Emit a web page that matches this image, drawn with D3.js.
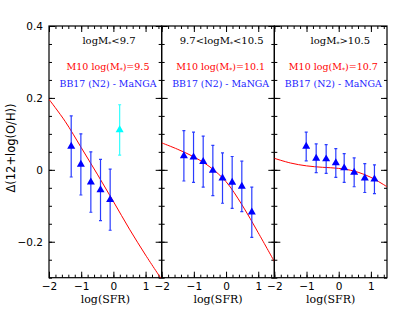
<!DOCTYPE html>
<html>
<head>
<meta charset="utf-8">
<script src="https://cdn.jsdelivr.net/npm/d3@7"></script>
<style>
    body { margin: 0; background: #fff; }
    .fmr-axis text { font-family: 'DejaVu Sans', sans-serif; font-size: 10.5px; fill: #000; }
    .fmr-axis line { stroke: #000; }
    .serif { font-family: 'DejaVu Serif', serif; font-size: 10px; }
</style>
</head>
<body>
<svg id="chart" width="415" height="321"></svg>
<script>
// DATA
const massBins = ['logM*<9.7', '9.7<logM*<10.5', 'logM*>10.5'];
const m10Mass = ['9.5', '10.1', '10.7'];
const sampleName = 'BB17 (N2) - MaNGA';
const xTicks = [-2, -1, 0, 1];
const yTicks = [0.4, 0.2, 0, -0.2];

// BB17 (N2) - MaNGA points, one array per mass bin
const sfrBB17 = [
    [-1.31, -1.01, -0.70, -0.40, -0.10],
    [-1.31, -1.01, -0.71, -0.41, -0.11, 0.19, 0.49, 0.80],
    [-1.01, -0.70, -0.39, -0.09, 0.17, 0.48, 0.81, 1.11]
];
const dohBB17 = [
    [0.065, 0.015, -0.034, -0.056, -0.083],
    [0.039, 0.035, 0.023, -0.002, -0.023, -0.035, -0.046, -0.118],
    [0.065, 0.032, 0.030, 0.019, 0.005, -0.007, -0.023, -0.026]
];
const errBB17 = [
    [0.085, 0.085, 0.084, 0.085, 0.085],
    [0.070, 0.070, 0.071, 0.070, 0.070, 0.072, 0.070, 0.070],
    [0.040, 0.040, 0.040, 0.040, 0.040, 0.040, 0.040, 0.040]
];

// single cyan point in the low mass bin
const sfrCyan = [0.195];
const dohCyan = [0.111];
const errCyan = [0.070];

// M10 curves
const sfrM10 = [-2, -1.5, -1, -0.5, 0, 0.5, 1, 1.5];
const dohM10 = [
    [0.196, 0.135, 0.062, -0.012, -0.088, -0.165, -0.237, -0.305],
    [0.075, 0.057, 0.036, 0.008, -0.033, -0.098, -0.175, -0.255],
    [0.032, 0.019, 0.011, 0.007, 0.004, -0.004, -0.021, -0.047]
];

class FmrPanel {
    constructor(svg, index) {
        this.svg = svg;
        this.index = index;
        this.initVis();
    }

    initVis() {
        let vis = this;

        vis.margin = { top: 26, left: 49 };
        vis.width = 338 / 3;
        vis.height = 251.7;
        vis.x0 = vis.margin.left + vis.index * vis.width;

        vis.g = vis.svg.append('g')
            .attr('transform', `translate(${vis.x0},${vis.margin.top})`);

        // SCALES
        vis.x = d3.scaleLinear().domain([-2, 1.5]).range([0, vis.width]);
        vis.y = d3.scaleLinear().domain([-0.3, 0.4]).range([vis.height, 0]);

        vis.g.append('clipPath')
            .attr('id', 'clip' + vis.index)
            .append('rect')
            .attr('width', vis.width)
            .attr('height', vis.height);

        vis.drawAxes();
        vis.drawData();
        vis.drawLabels();
    }

    drawAxes() {
        let vis = this;
        const minorX = d3.range(-2, 1.51, 0.2);
        const minorY = d3.range(-0.3, 0.401, 0.05);

        const axes = [
            [d3.axisBottom, vis.x, `translate(0,${vis.height})`, true],
            [d3.axisTop, vis.x, 'translate(0,0)', false],
            [d3.axisLeft, vis.y, 'translate(0,0)', false],
            [d3.axisRight, vis.y, `translate(${vis.width},0)`, false]
        ];

        axes.forEach(([axisFn, scale, tr, labels]) => {
            const isX = scale === vis.x;
            const minor = isX ? minorX : minorY;
            const major = isX ? xTicks : yTicks;

            vis.g.append('g')
                .attr('class', 'fmr-axis')
                .attr('transform', tr)
                .call(axisFn(scale).tickValues(minor).tickSize(-3).tickFormat(''))
                .call(g => g.select('.domain').remove());

            vis.g.append('g')
                .attr('class', 'fmr-axis')
                .attr('transform', tr)
                .call(axisFn(scale).tickValues(major).tickSize(-6).tickPadding(4.5)
                    .tickFormat(labels ? d3.format('d') : ''))
                .call(g => g.select('.domain').remove());
        });

        // Y LABELS (first panel only)
        if (vis.index === 0) {
            const fmt = d => (d === 0 ? '0' : d3.format('.1f')(d));
            vis.g.append('g')
                .attr('class', 'fmr-axis')
                .selectAll('text')
                .data(yTicks)
                .enter()
                .append('text')
                .attr('x', -6)
                .attr('y', d => vis.y(d))
                .attr('dy', '0.36em')
                .attr('text-anchor', 'end')
                .text(fmt);
        }

        // FRAME
        vis.g.append('rect')
            .attr('width', vis.width)
            .attr('height', vis.height)
            .attr('fill', 'none')
            .attr('stroke', '#000')
            .attr('stroke-width', 1.2);

        // X TITLE
        vis.g.append('text')
            .attr('class', 'serif')
            .attr('x', vis.width / 2)
            .attr('y', vis.height + 25.5)
            .attr('text-anchor', 'middle')
            .style('font-size', '11px')
            .text('log(SFR)');
    }

    drawData() {
        let vis = this;
        const i = vis.index;

        const plot = vis.g.append('g').attr('clip-path', `url(#clip${i})`);

        // M10 CURVE
        const line = d3.line()
            .x(d => vis.x(d[0]))
            .y(d => vis.y(d[1]))
            .curve(d3.curveCatmullRom);

        plot.append('path')
            .datum(sfrM10.map((s, j) => [s, dohM10[i][j]]))
            .attr('d', line)
            .attr('fill', 'none')
            .attr('stroke', '#ff0000')
            .attr('stroke-width', 1);

        const sets = [{ s: sfrBB17[i], d: dohBB17[i], e: errBB17[i], bar: '#2a3cff', fill: '#0000ff' }];
        if (i === 0) sets.push({ s: sfrCyan, d: dohCyan, e: errCyan, bar: '#33ffff', fill: '#00ffff' });

        sets.forEach(set => {
            const pts = set.s.map((s, j) => ({ s: s, d: set.d[j], e: set.e[j] }));

            // ERROR BARS
            const bars = plot.append('g').selectAll('g').data(pts).enter().append('g')
                .attr('stroke', set.bar)
                .attr('stroke-width', 1.2);
            bars.append('line')
                .attr('x1', d => vis.x(d.s)).attr('x2', d => vis.x(d.s))
                .attr('y1', d => vis.y(d.d + d.e)).attr('y2', d => vis.y(d.d - d.e));
            [1, -1].forEach(k => {
                bars.append('line')
                    .attr('x1', d => vis.x(d.s) - 1.5).attr('x2', d => vis.x(d.s) + 1.5)
                    .attr('y1', d => vis.y(d.d + k * d.e)).attr('y2', d => vis.y(d.d + k * d.e));
            });

            // TRIANGLES
            plot.append('g').selectAll('path').data(pts).enter().append('path')
                .attr('d', d3.symbol().type(d3.symbolTriangle).size(28))
                .attr('transform', d => `translate(${vis.x(d.s)},${vis.y(d.d)})`)
                .attr('fill', set.fill);
        });
    }

    drawLabels() {
        let vis = this;
        const i = vis.index;
        const cx = 59;

        const massText = (sel, str) => {
            const parts = str.split('*');
            parts.forEach((p, k) => {
                if (k > 0) {
                    sel.append('tspan').attr('dy', 2).style('font-size', '6px').text('*');
                    sel.append('tspan').attr('dy', -2).text(p);
                } else {
                    sel.append('tspan').text(p);
                }
            });
        };

        const t1 = vis.g.append('text')
            .attr('class', 'serif')
            .attr('x', i === 2 ? 66 : cx + 1)
            .attr('y', 18)
            .attr('text-anchor', 'middle')
            .attr('fill', '#000');
        massText(t1, massBins[i]);

        const t2 = vis.g.append('text')
            .attr('class', 'serif')
            .attr('x', cx)
            .attr('y', 43.5)
            .attr('text-anchor', 'middle')
            .style('font-size', '9.5px')
            .attr('fill', '#ff0000');
        massText(t2, 'M10 log(M*)=' + m10Mass[i]);

        vis.g.append('text')
            .attr('class', 'serif')
            .attr('x', cx)
            .attr('y', 61)
            .attr('text-anchor', 'middle')
            .style('font-size', '9.4px')
            .attr('fill', '#1a1aff')
            .text(sampleName);
    }
}

const svg = d3.select('#chart');
[0, 1, 2].forEach(i => new FmrPanel(svg, i));

// Y TITLE
svg.append('text')
    .attr('transform', 'translate(15,148) rotate(-90)')
    .attr('text-anchor', 'middle')
    .style('font-family', "'DejaVu Sans', sans-serif")
    .style('font-size', '11.5px')
    .text('\u0394(12+log(O/H))');
</script>
</body>
</html>
